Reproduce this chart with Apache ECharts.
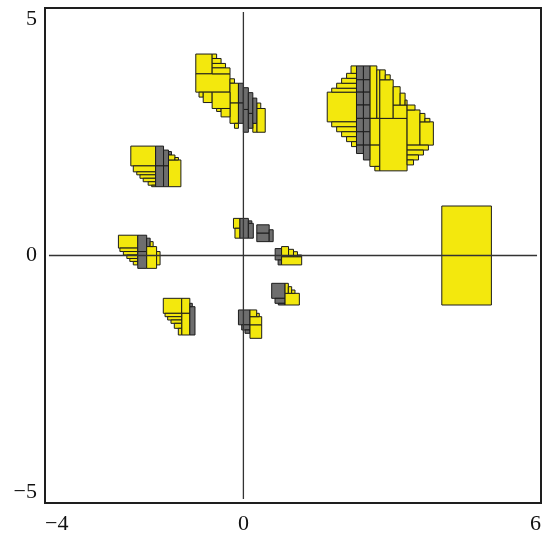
<!DOCTYPE html>
<html>
<head>
<meta charset="utf-8">
<script src="https://cdn.jsdelivr.net/npm/echarts@6/dist/echarts.min.js"></script>
<style>
  html, body { margin: 0; padding: 0; background: #fff; }
  #chart { width: 549px; height: 536px; }
</style>
</head>
<body>
<div id="chart"></div>
<script>
// boxes: [x1, x2, y1, y2, kind]  kind 0 = yellow, 1 = gray
const boxesA = [
  [-0.96, -0.63, 3.67, 4.07, 0], [-0.96, -0.27, 3.30, 3.67, 0],
  [-0.63, -0.54, 3.98, 4.07, 0], [-0.63, -0.45, 3.88, 3.98, 0],
  [-0.63, -0.36, 3.79, 3.88, 0], [-0.63, -0.27, 3.67, 3.79, 0],
  [-0.27, -0.18, 3.48, 3.57, 0], [-0.27, -0.10, 3.08, 3.48, 0],
  [-0.27, -0.10, 2.67, 3.08, 0], [-0.895, -0.81, 3.20, 3.30, 0],
  [-0.81, -0.63, 3.09, 3.30, 0], [-0.63, -0.27, 2.97, 3.30, 0],
  [-0.54, -0.45, 2.91, 2.97, 0], [-0.45, -0.27, 2.80, 2.97, 0],
  [-0.18, -0.10, 2.57, 2.67, 0], [0.27, 0.44, 2.49, 2.97, 0],
  [0.27, 0.35, 2.97, 3.08, 0], [0.19, 0.27, 2.49, 2.67, 0],
  [-0.10, 0.00, 3.08, 3.48, 1], [-0.10, 0.00, 2.67, 3.08, 1],
  [0.00, 0.10, 2.95, 3.39, 1], [0.00, 0.10, 2.49, 2.95, 1],
  [0.10, 0.19, 2.87, 3.29, 1], [0.10, 0.19, 2.57, 2.87, 1],
  [0.19, 0.27, 2.67, 3.18, 1]
];
const boxesB = [
  [1.69, 2.28, 2.70, 3.30, 0],
  [1.78, 2.28, 3.30, 3.38, 0], [1.88, 2.28, 3.38, 3.48, 0], [1.98, 2.28, 3.48, 3.58, 0],
  [2.08, 2.28, 3.58, 3.68, 0], [2.17, 2.28, 3.68, 3.83, 0],
  [1.78, 2.28, 2.60, 2.70, 0], [1.88, 2.28, 2.50, 2.60, 0], [1.98, 2.28, 2.40, 2.50, 0],
  [2.08, 2.28, 2.30, 2.40, 0], [2.18, 2.28, 2.20, 2.30, 0],
  [2.55, 2.69, 2.77, 3.83, 0], [2.69, 2.75, 2.77, 3.75, 0],
  [2.55, 2.75, 2.23, 2.77, 0], [2.55, 2.75, 1.80, 2.23, 0], [2.65, 2.75, 1.71, 1.80, 0],
  [2.75, 3.30, 1.71, 2.77, 0],
  [2.75, 3.02, 2.77, 3.55, 0], [2.75, 2.86, 3.55, 3.75, 0], [2.86, 2.96, 3.55, 3.65, 0],
  [3.02, 3.30, 2.77, 3.04, 0], [3.02, 3.16, 3.04, 3.41, 0], [3.16, 3.26, 3.04, 3.28, 0],
  [3.26, 3.30, 3.04, 3.14, 0],
  [3.30, 3.56, 2.23, 2.94, 0], [3.30, 3.46, 2.94, 3.04, 0],
  [3.56, 3.83, 2.23, 2.70, 0], [3.56, 3.66, 2.70, 2.87, 0], [3.66, 3.76, 2.70, 2.77, 0],
  [3.30, 3.73, 2.13, 2.23, 0], [3.30, 3.63, 2.03, 2.13, 0], [3.30, 3.53, 1.93, 2.03, 0],
  [3.30, 3.43, 1.83, 1.93, 0],
  [2.28, 2.42, 3.55, 3.83, 1], [2.28, 2.42, 3.30, 3.55, 1], [2.28, 2.42, 3.04, 3.30, 1],
  [2.28, 2.42, 2.77, 3.04, 1], [2.28, 2.42, 2.50, 2.77, 1], [2.28, 2.42, 2.23, 2.50, 1],
  [2.28, 2.42, 2.06, 2.23, 1],
  [2.42, 2.55, 3.55, 3.83, 1], [2.42, 2.55, 3.30, 3.55, 1], [2.42, 2.55, 3.04, 3.30, 1],
  [2.42, 2.55, 2.77, 3.04, 1], [2.42, 2.55, 2.50, 2.77, 1], [2.42, 2.55, 2.23, 2.50, 1],
  [2.42, 2.55, 1.93, 2.23, 1]
];
const boxesC = [
  [-2.27, -1.77, 1.81, 2.21, 0],
  [-2.22, -1.77, 1.69, 1.81, 0], [-2.15, -1.77, 1.63, 1.69, 0], [-2.085, -1.77, 1.56, 1.63, 0],
  [-2.02, -1.77, 1.49, 1.56, 0], [-1.92, -1.77, 1.42, 1.49, 0], [-1.85, -1.77, 1.39, 1.42, 0],
  [-1.77, -1.61, 1.81, 2.21, 1], [-1.77, -1.61, 1.39, 1.81, 1],
  [-1.61, -1.51, 1.81, 2.13, 1], [-1.61, -1.51, 1.39, 1.81, 1], [-1.51, -1.45, 2.03, 2.10, 1],
  [-1.51, -1.26, 1.39, 1.93, 0], [-1.51, -1.38, 1.93, 2.03, 0], [-1.38, -1.31, 1.93, 1.98, 0]
];
const boxesD = [
  [-2.52, -2.13, 0.15, 0.41, 0],
  [-2.49, -2.13, 0.08, 0.15, 0], [-2.42, -2.13, 0.01, 0.08, 0], [-2.35, -2.13, -0.06, 0.01, 0],
  [-2.29, -2.13, -0.12, -0.06, 0], [-2.22, -2.13, -0.19, -0.12, 0],
  [-2.13, -1.95, 0.08, 0.41, 1], [-2.13, -1.95, -0.26, 0.08, 1], [-1.95, -1.88, 0.18, 0.35, 1],
  [-1.95, -1.75, -0.26, 0.18, 0], [-1.75, -1.68, -0.19, 0.08, 0], [-1.88, -1.82, 0.18, 0.28, 0]
];
const boxesE = [
  [-0.20, -0.07, 0.55, 0.75, 0], [-0.17, -0.07, 0.35, 0.55, 0],
  [-0.07, 0.10, 0.35, 0.75, 1], [0.10, 0.20, 0.35, 0.65, 1], [0.10, 0.17, 0.65, 0.70, 1]
];
const boxesF = [
  [0.27, 0.52, 0.45, 0.62, 1], [0.27, 0.52, 0.28, 0.45, 1], [0.52, 0.60, 0.28, 0.52, 1]
];
const boxesG = [
  [0.64, 0.77, -0.09, 0.14, 1], [0.70, 0.77, -0.19, -0.09, 1],
  [0.77, 1.175, -0.19, -0.024, 0], [0.77, 0.91, -0.024, 0.18, 0],
  [0.91, 1.01, -0.024, 0.125, 0], [1.01, 1.09, -0.024, 0.077, 0], [1.09, 1.175, -0.024, 0.01, 0]
];
const boxesH = [
  [-1.615, -1.244, -1.168, -0.865, 0], [-1.244, -1.08, -1.168, -0.865, 0],
  [-1.244, -1.08, -1.606, -1.168, 0],
  [-1.58, -1.244, -1.236, -1.168, 0], [-1.527, -1.244, -1.303, -1.236, 0],
  [-1.46, -1.244, -1.37, -1.303, 0], [-1.393, -1.244, -1.471, -1.37, 0],
  [-1.312, -1.244, -1.606, -1.471, 0],
  [-1.08, -0.976, -1.606, -1.034, 1], [-1.08, -1.03, -1.034, -0.966, 1]
];
const boxesI = [
  [0.57, 0.84, -0.865, -0.562, 1], [0.637, 0.84, -0.966, -0.865, 1], [0.704, 0.84, -1.0, -0.966, 1],
  [0.84, 1.128, -1.0, -0.764, 0], [0.84, 0.906, -0.764, -0.562, 0],
  [0.906, 0.973, -0.764, -0.63, 0], [0.973, 1.04, -0.764, -0.697, 0]
];
const boxesJ = [
  [-0.10, 0.133, -1.40, -1.10, 1], [-0.034, 0.133, -1.505, -1.40, 1], [0.032, 0.133, -1.572, -1.505, 1],
  [0.133, 0.369, -1.673, -1.40, 0], [0.133, 0.369, -1.40, -1.236, 0],
  [0.133, 0.268, -1.236, -1.10, 0], [0.268, 0.32, -1.236, -1.168, 0]
];
const boxesBig = [
  [4.0, 5.0, -1.0, 1.0, 0]
];

const xTickLabels = [-4, 0, 6];
const yTickLabels = [-5, 0, 5];
const xZeroLine = [[-3.92, 0], [5.92, 0]];
const yZeroLine = [[0, -4.92], [0, 4.92]];

const YELLOW = '#f3e80d';
const GRAY = '#6e6e6e';

const allBoxes = [].concat(boxesA, boxesB, boxesC, boxesD, boxesE,
  boxesF, boxesG, boxesH, boxesI, boxesJ, boxesBig);

const fmt = v => (v < 0 ? '\u2212' + Math.abs(v) : String(v));

const chart = echarts.init(document.getElementById('chart'));

function renderBox(params, api) {
  const p1 = api.coord([api.value(0), api.value(3)]);
  const p2 = api.coord([api.value(1), api.value(2)]);
  return {
    type: 'rect',
    shape: { x: p1[0], y: p1[1], width: p2[0] - p1[0], height: p2[1] - p1[1] },
    style: {
      fill: api.value(4) ? GRAY : YELLOW,
      stroke: '#1c1c1c',
      lineWidth: 1
    }
  };
}

const labelFont = {
  fontFamily: 'Liberation Serif',
  fontSize: 22,
  color: '#111'
};

chart.setOption({
  animation: false,
  grid: {
    left: 45, right: 8, top: 8, bottom: 33,
    show: true,
    borderColor: '#1e1e1e',
    borderWidth: 2,
    backgroundColor: '#fff'
  },
  xAxis: {
    type: 'value',
    min: -4, max: 6, interval: 1,
    splitLine: { show: false },
    axisTick: { show: false },
    axisLine: { show: false },
    axisLabel: Object.assign({
      margin: 10,
      alignMinLabel: 'left',
      alignMaxLabel: 'right',
      formatter: v => (xTickLabels.includes(v) ? fmt(v) : '')
    }, labelFont)
  },
  yAxis: {
    type: 'value',
    min: -5, max: 5, interval: 1,
    splitLine: { show: false },
    axisTick: { show: false },
    axisLine: { show: false },
    axisLabel: Object.assign({
      margin: 8,
      verticalAlignMinLabel: 'bottom',
      verticalAlignMaxLabel: 'top',
      formatter: v => (yTickLabels.includes(v) ? fmt(v) : '')
    }, labelFont)
  },
  series: [
    {
      type: 'custom',
      renderItem: renderBox,
      encode: { x: [0, 1], y: [2, 3] },
      data: allBoxes,
      z: 2
    },
    {
      type: 'line',
      data: xZeroLine,
      symbol: 'none',
      lineStyle: { color: '#333', width: 1.3 },
      z: 5
    },
    {
      type: 'line',
      data: yZeroLine,
      symbol: 'none',
      lineStyle: { color: '#333', width: 1.3 },
      z: 5
    }
  ]
});
</script>
</body>
</html>
